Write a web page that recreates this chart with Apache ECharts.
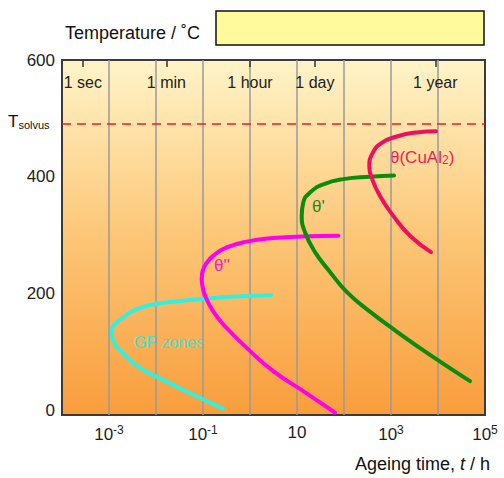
<!DOCTYPE html>
<html><head><meta charset="utf-8">
<script src="https://cdn.jsdelivr.net/npm/echarts@6/dist/echarts.min.js"></script>
<style>html,body{margin:0;padding:0;background:#fff}#c{width:504px;height:478px}</style>
</head><body><div id="c"></div>
<script>
// Ageing time (h), temperature (°C)
const gpZones = [[2.80,197],[0.48,195],[0.110,191],[0.0294,187],[0.00953,182],[0.00357,172],[0.00171,155],[0.00128,146],[0.00114,137],[0.00116,128],[0.00130,115],[0.00189,99],[0.00414,75],[0.0134,53],[0.048,31],[0.267,3]];
const thetaDoublePrime = [[75.7,299],[16.1,298],[3.13,295],[0.851,289],[0.319,279],[0.166,265],[0.118,252],[0.098,238],[0.0938,226],[0.098,212],[0.110,197],[0.166,169],[0.319,141],[0.851,107],[3.13,67],[13.6,33],[64.4,-4]];
const thetaPrime = [[1159,402],[357,400],[96.6,396],[36.3,387],[18.9,373],[13.6,356],[12.6,333],[14.8,305],[24.2,271],[50.4,237],[114,203],[357,169],[1321,135],[6761,95],[47970,50]];
const thetaCuAl2 = [[9057,478],[3524,476],[1321,469],[634,458],[408,441],[345,418],[388,398],[583,367],[1119,333],[2535,299],[7096,271]];
const tSolvus = 490;
const yTicks = [0,200,400,600];
const xLabelValues = [1e-3,1e-1,1e1,1e3,1e5];
const xLabelExps = ['-3','-1','','3','5'];
const topTickHours = [1/3600, 1/60, 1, 24, 8760];
const topTickNames = ['1 sec','1 min','1 hour','1 day','1 year'];

const FONT = 'Liberation Sans, Arial, sans-serif';
const chart = echarts.init(document.getElementById('c'), null, {renderer:'svg'});

function lineSeries(name, data, color){
  return {name, type:'line', data, xAxisIndex:0, yAxisIndex:0, smooth:0.5, showSymbol:false, symbol:'none',
    lineStyle:{color, width:4, cap:'round'}, silent:true, animation:false};
}
const series = [
  lineSeries('GP zones', gpZones, '#33efe0'),
  lineSeries('θ\'\'', thetaDoublePrime, '#ff00ee'),
  lineSeries('θ\'', thetaPrime, '#0c8c0c'),
  lineSeries('θ(CuAl2)', thetaCuAl2, '#ee1060')
];
series[0].markLine = {symbol:'none', silent:true, label:{show:false}, animation:false,
  lineStyle:{color:'#e02424', type:[9,6], width:1.5}, data:[{yAxis:tSolvus}]};

chart.setOption({
  animation:false,
  grid:{left:62, right:19, top:60, bottom:63, show:true,
    backgroundColor:new echarts.graphic.LinearGradient(0,0,0,1,[{offset:0,color:'#fff4c8'},{offset:0.5,color:'#fcc676'},{offset:1,color:'#f99d3c'}]),
    borderColor:'#3a3a3a', borderWidth:2},
  xAxis:[{
    type:'log', logBase:10, min:1e-4, max:1e5, splitNumber:9,
    axisLine:{show:false}, axisTick:{show:false},
    splitLine:{show:true, showMinLine:false, showMaxLine:false, lineStyle:{color:'#9a9a9a', width:1.5}},
    axisLabel:{customValues:xLabelValues, margin:9,
      formatter:function(v){
        let i = xLabelValues.findIndex(x=>Math.abs(Math.log10(x)-Math.log10(v))<1e-6);
        if(i<0) return '';
        return xLabelExps[i] ? '{b|10}{s|'+xLabelExps[i]+'}' : '{b|10}';
      },
      rich:{b:{fontSize:17, color:'#222', fontFamily:FONT}, s:{fontSize:12, color:'#222', fontFamily:FONT, verticalAlign:'top', padding:[0,0,8,0]}}
    }
  },{
    type:'log', logBase:10, min:1e-4, max:1e5, splitNumber:9, position:'top',
    axisLine:{show:false}, splitLine:{show:false},
    axisTick:{show:true, inside:true, length:7, customValues:topTickHours, lineStyle:{color:'#333', width:1.5}},
    axisLabel:{show:true, inside:true, margin:14, customValues:topTickHours, fontSize:16, color:'#222', fontFamily:FONT,
      formatter:function(v){
        let best=0, d=1e9;
        topTickHours.forEach((h,i)=>{const dd=Math.abs(Math.log10(h)-Math.log10(v)); if(dd<d){d=dd;best=i;}});
        return topTickNames[best];
      }}
  }],
  yAxis:{type:'value', min:-8, max:600,
    axisLine:{show:false}, axisTick:{show:false}, splitLine:{show:false},
    axisLabel:{customValues:yTicks, fontSize:17, color:'#222', fontFamily:FONT, margin:7}
  },
  series,
  graphic:[
    {type:'text', left:65, top:24, style:{text:'Temperature / ˚C', fontSize:18, fill:'#111', fontFamily:FONT}},
    {type:'rect', shape:{x:216, y:11, width:268, height:34}, style:{fill:'#fffb9c', stroke:'#111', lineWidth:1.5}},
    {type:'text', left:8, top:113, style:{text:'{T|T}{s|solvus}', rich:{T:{fontSize:17, fill:'#111', fontFamily:FONT}, s:{fontSize:11, fill:'#111', fontFamily:FONT, verticalAlign:'bottom', padding:[6,0,0,0]}}}},
    {type:'text', right:14, top:455, style:{text:'{a|Ageing time, }{i|t}{a| / h}', rich:{a:{fontSize:18, fill:'#111', fontFamily:FONT}, i:{fontSize:18, fill:'#111', fontFamily:FONT, fontStyle:'italic'}}}},
    {type:'text', left:134, top:334, style:{text:'GP zones', fontSize:16, fill:'#40e3d6', fontFamily:FONT}},
    {type:'text', left:214, top:257, style:{text:'θ\'\'', fontSize:17, fill:'#f520c8', fontFamily:FONT}},
    {type:'text', left:312, top:198, style:{text:'θ\'', fontSize:17, fill:'#1f8a1f', fontFamily:FONT}},
    {type:'text', left:390, top:149, style:{text:'{a|θ(CuAl}{s|2}{a|)}', rich:{a:{fontSize:17, fill:'#e81f5a', fontFamily:FONT}, s:{fontSize:12, fill:'#e81f5a', fontFamily:FONT, verticalAlign:'bottom', padding:[5,0,0,0]}}}}
  ]
});
</script>
</body></html>
